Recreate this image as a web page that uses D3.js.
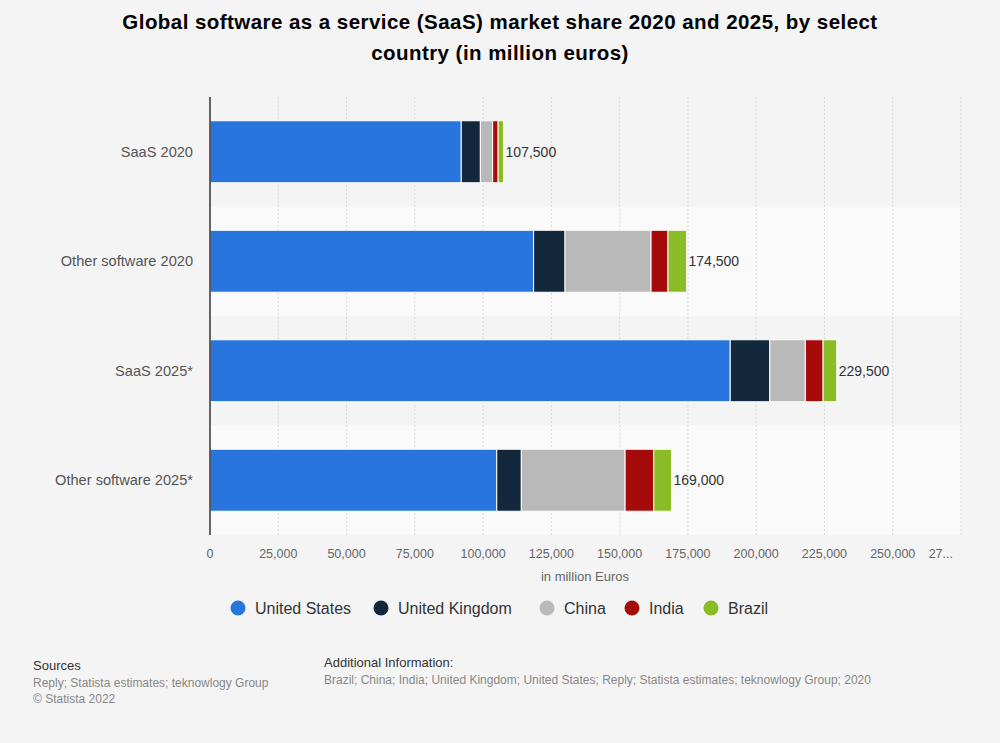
<!DOCTYPE html>
<html>
<head>
<meta charset="utf-8">
<script src="https://cdn.jsdelivr.net/npm/d3@7"></script>
<style>
  html, body { margin: 0; padding: 0; background: #f4f4f4; }
  svg { display: block; font-family: "Liberation Sans", Arial, sans-serif; }
</style>
</head>
<body>
<svg id="chart" width="1000" height="743"></svg>
<script>
const categories = ["SaaS 2020", "Other software 2020", "SaaS 2025*", "Other software 2025*"];
const seriesNames = ["United States", "United Kingdom", "China", "India", "Brazil"];
const unitedStates   = [92000, 118500, 190500, 105000];
const unitedKingdom  = [7000, 11500, 14500, 9000];
const china          = [4500, 31500, 13000, 38000];
const india          = [2000, 6200, 6500, 10500];
const brazil         = [2000, 6800, 5000, 6500];
const totals         = [107500, 174500, 229500, 169000];
const xTicks = [0, 25000, 50000, 75000, 100000, 125000, 150000, 175000, 200000, 225000, 250000, 275000];
const colors = ["#2876dd", "#13283d", "#b9b9b9", "#a50b0b", "#8abc25"];

const seriesValues = [unitedStates, unitedKingdom, china, india, brazil];
const rows = categories.map((c, i) => {
  const r = { category: c, total: totals[i] };
  seriesNames.forEach((s, j) => r[s] = seriesValues[j][i]);
  return r;
});

const svg = d3.select("#chart");
const margin = { left: 210, right: 39, top: 97, bottom: 208 };
const W = 1000, H = 743;
const x = d3.scaleLinear().domain([0, 275000]).range([margin.left, W - margin.right]);
const y = d3.scaleBand().domain(categories).range([margin.top, H - margin.bottom]).paddingInner(0).paddingOuter(0);
const barPad = 0.434;

// Title
svg.append("text").attr("x", 500).attr("y", 29).attr("text-anchor", "middle")
  .attr("font-size", 20.5).attr("font-weight", "bold").attr("fill", "#000")
  .attr("letter-spacing", 0.45)
  .text("Global software as a service (SaaS) market share 2020 and 2025, by select");
svg.append("text").attr("x", 500).attr("y", 60).attr("text-anchor", "middle")
  .attr("font-size", 20.5).attr("font-weight", "bold").attr("fill", "#000")
  .attr("letter-spacing", 0.45)
  .text("country (in million euros)");

// Band backgrounds
svg.append("g").selectAll("rect").data(categories).join("rect")
  .attr("x", margin.left).attr("width", x(275000) - margin.left)
  .attr("y", d => y(d)).attr("height", y.bandwidth())
  .attr("fill", (d, i) => i % 2 === 1 ? "#fafafa" : "#f4f4f4");

// Grid
svg.append("g").selectAll("line").data(xTicks.slice(1)).join("line")
  .attr("x1", d => x(d)).attr("x2", d => x(d))
  .attr("y1", margin.top).attr("y2", H - margin.bottom)
  .attr("stroke", "#d8d8d8").attr("stroke-width", 1).attr("stroke-dasharray", "2,2");

// Bars
const stack = d3.stack().keys(seriesNames)(rows);
const bh = y.bandwidth() * (1 - barPad);
svg.append("g").selectAll("g").data(stack).join("g")
  .attr("fill", (d, i) => colors[i])
  .selectAll("rect").data(d => d).join("rect")
  .attr("x", d => x(d[0])).attr("width", d => Math.max(0, x(d[1]) - x(d[0])))
  .attr("y", d => y(d.data.category) + (y.bandwidth() - bh) / 2)
  .attr("height", bh)
  .attr("stroke", "#ffffff").attr("stroke-width", 1);

// Value labels
svg.append("g").selectAll("text").data(rows).join("text")
  .attr("x", d => x(d.total) + 2)
  .attr("y", d => y(d.category) + y.bandwidth() / 2 + 5)
  .attr("font-size", 14).attr("fill", "#333")
  .text(d => d3.format(",")(d.total));

// Left axis line
svg.append("line").attr("x1", margin.left).attr("x2", margin.left)
  .attr("y1", margin.top).attr("y2", H - margin.bottom)
  .attr("stroke", "#333").attr("stroke-width", 1.5);

// Category labels
svg.append("g").selectAll("text").data(categories).join("text")
  .attr("x", 193).attr("y", d => y(d) + y.bandwidth() / 2 + 5)
  .attr("text-anchor", "end").attr("font-size", 14.6).attr("fill", "#555")
  .text(d => d);

// X ticks
const fmt = d3.format(",");
svg.append("g").selectAll("text").data(xTicks).join("text")
  .attr("x", d => x(d)).attr("y", 558)
  .attr("text-anchor", d => d === 275000 ? "end" : "middle")
  .attr("dx", d => d === 275000 ? -8 : 0)
  .attr("font-size", 12.5).attr("fill", "#666")
  .text(d => d === 275000 ? "27..." : fmt(d));

svg.append("text").attr("x", 585).attr("y", 581).attr("text-anchor", "middle")
  .attr("font-size", 13).attr("fill", "#666").text("in million Euros");

// Legend
const legendX = [238, 381, 547, 632, 711];
const lg = svg.append("g").selectAll("g").data(seriesNames).join("g")
  .attr("transform", (d, i) => `translate(${legendX[i]},608)`);
lg.append("circle").attr("r", 7.5).attr("fill", (d, i) => colors[i]);
lg.append("text").attr("x", 17).attr("y", 6).attr("font-size", 16).attr("fill", "#333").text(d => d);

// Footer
svg.append("text").attr("x", 33).attr("y", 670).attr("font-size", 13).attr("fill", "#333").text("Sources");
svg.append("text").attr("x", 33).attr("y", 687).attr("font-size", 12).attr("fill", "#888").text("Reply; Statista estimates; teknowlogy Group");
svg.append("text").attr("x", 33).attr("y", 703).attr("font-size", 12).attr("fill", "#888").text("© Statista 2022");
svg.append("text").attr("x", 324).attr("y", 667).attr("font-size", 13).attr("fill", "#333").text("Additional Information:");
svg.append("text").attr("x", 324).attr("y", 684).attr("font-size", 12).attr("fill", "#888").text("Brazil; China; India; United Kingdom; United States; Reply; Statista estimates; teknowlogy Group; 2020");
</script>
</body>
</html>
